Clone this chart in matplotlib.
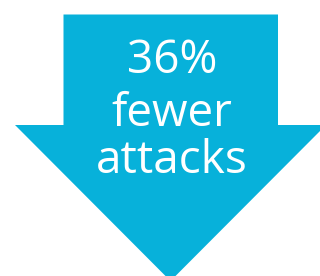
import matplotlib
matplotlib.use("Agg")
import matplotlib.pyplot as plt
from matplotlib.patches import Polygon

# Arrow outline (pixel coords, y down)
arrow_x = [63.5, 278, 278, 326, 170.5, 15, 63.5]
arrow_y = [14.5, 14.5, 125, 125, 281, 125, 125]
lines = ["36%", "fewer", "attacks"]
baselines = [73, 126, 173]
color = "#07B1DA"

fig = plt.figure(figsize=(3.2, 2.76), dpi=100)
ax = fig.add_axes([0, 0, 1, 1])
ax.set_xlim(0, 320)
ax.set_ylim(276, 0)
ax.axis("off")
ax.add_patch(Polygon(list(zip(arrow_x, arrow_y)), closed=True, facecolor=color, edgecolor="none"))
for t, b in zip(lines, baselines):
    ax.text(172, b, t, ha="center", va="baseline", color="white", fontsize=33,
            family="Open Sans")
fig.savefig("out.png", dpi=100)
